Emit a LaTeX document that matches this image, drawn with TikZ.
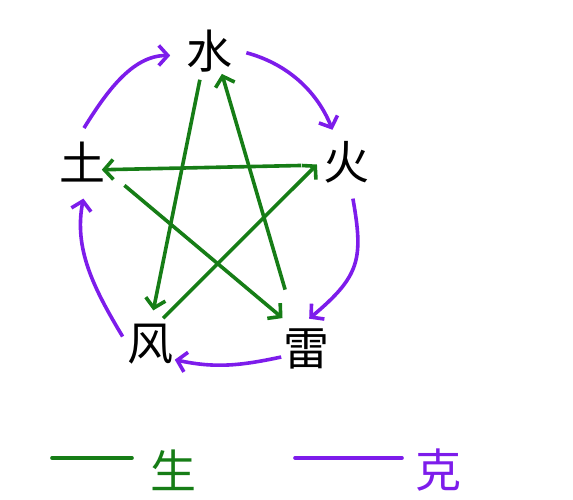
\documentclass[tikz,border=0pt]{standalone}
\usepackage{fontspec}
\newfontfamily\cjk{Noto Sans CJK SC}
\usetikzlibrary{arrows.meta}
\definecolor{shenggreen}{RGB}{22,125,22}
\definecolor{kepurple}{RGB}{125,28,235}

\begin{document}
\begin{tikzpicture}[x=1pt,y=1pt,line width=3.6pt,
 zi/.style={inner sep=0pt,text width=46pt,align=center,text height=40pt,text depth=6pt,font=\cjk\fontsize{46}{46}\selectfont},
 sheng/.style={draw=shenggreen,-{Straight Barb[length=9pt,width=20pt]}},
 ke/.style={draw=kepurple,-{Straight Barb[length=9pt,width=20pt]}}]
 \useasboundingbox (0,0) rectangle (573,-500);

 \node[zi] (shui) at (209,-52) {水};
 \node[zi] (huo) at (346,-162) {火};
 \node[zi] (lei) at (306,-348) {雷};
 \node[zi] (feng) at (150,-343) {风};
 \node[zi] (tu) at (82,-163) {土};

 % star
 \draw[sheng,shorten <=3pt,shorten >=8pt] (shui.-109) -- (feng.86);
 \draw[sheng,shorten <=35pt,shorten >=-3pt] (lei.114) -- (shui.-61);
 \draw[sheng,shorten <=20pt,shorten >=-5pt] (huo.187) -- (tu.-15);
 \draw[sheng,shorten <=23pt,shorten >=8pt] (tu.-17) -- (lei.125);
 \draw[sheng,shorten >=6pt] (feng.62) -- (huo.176);

 % ring
 \draw[ke,shorten <=12pt,shorten >=14pt] (tu.100) to[out=58,in=180] (shui.188);
 \draw[ke,shorten <=13pt,shorten >=8pt] (shui.6) to[out=-15,in=112] (huo.113);
 \draw[ke,shorten <=12pt,shorten >=7pt] (huo.-79) to[out=-80,in=40,looseness=1.3] (lei.95);
 \draw[ke] (lei.200) to[out=192,in=-12] (feng.-34);
 \draw[ke,shorten <=5pt,shorten >=11pt] (feng.175) to[out=121,in=-101] (tu.-82);

 % legend
 \coordinate (shengL) at (52,-458);
 \coordinate (shengR) at (132,-458);
 \node[zi,text=shenggreen] (shengzi) at (173,-471) {生};
 \draw[shenggreen,line cap=round] (shengL) -- (shengR);
 \coordinate (keL) at (295,-458);
 \coordinate (keR) at (402,-458);
 \node[zi,text=kepurple] (kezi) at (438,-470) {克};
 \draw[kepurple,line cap=round] (keL) -- (keR);
\end{tikzpicture}
\end{document}
